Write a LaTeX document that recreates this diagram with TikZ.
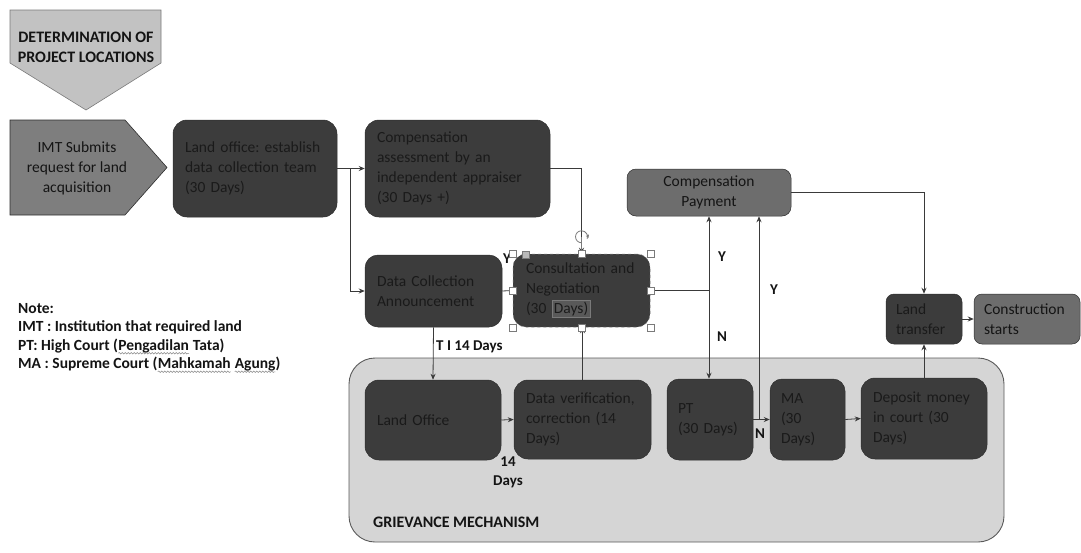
\documentclass[tikz,border=0pt]{standalone}
\usepackage{fontspec}
\setmainfont{Carlito}
\usetikzlibrary{arrows.meta,decorations.pathmorphing}

\definecolor{darkbox}{HTML}{3C3C3C}
\definecolor{midbox}{HTML}{6D6D6D}
\definecolor{imtbox}{HTML}{7E7E7E}
\definecolor{titlebox}{HTML}{C2C2C2}
\definecolor{grievbox}{HTML}{D5D5D5}
\definecolor{txt}{HTML}{141414}
\definecolor{boxtxt}{HTML}{1A1A1A}
\definecolor{linec}{HTML}{3A3A3A}
\definecolor{edgec}{HTML}{2E2E2E}
\definecolor{wavec}{HTML}{8A8A8A}
\definecolor{handlec}{HTML}{7A7A7A}
\definecolor{frame}{HTML}{5A5A5A}

% spell-check style wavy underline
\newcommand{\squig}[1]{\tikz[x=1cm,y=1cm,baseline=(w.base)]{%
  \node[inner sep=0pt,outer sep=0pt] (w) {#1};
  \draw[wavec, line width=0.5pt, decorate,
    decoration={snake, amplitude=0.8pt, segment length=3pt}]
    ([yshift=-3pt]w.base west) -- ([yshift=-3pt]w.base east);}}

\begin{document}
\begin{tikzpicture}[x=1pt,y=-1pt,
  boxtext/.style={font=\fontsize{15.5}{20}\selectfont, text=boxtxt},
  box/.style={boxtext, draw=edgec, line width=0.5pt, fill=darkbox,
    rounded corners=14pt, align=left, inner xsep=12pt, inner ysep=0pt},
  midnode/.style={box, fill=midbox, text=txt},
  lbl/.style={font=\fontsize{15}{18}\selectfont\bfseries, text=txt, inner sep=0pt},
  conn/.style={draw=linec, line width=0.8pt},
  arr/.style={conn, -{Stealth[length=6pt,width=5pt]}},
  handle/.style={draw=handlec, fill=white, line width=0.5pt, minimum size=7pt,
    inner sep=0pt, rectangle},
]
\useasboundingbox (0,0) rectangle (1081,552);

% ---- entry shapes ----
\draw[draw=handlec, fill=titlebox, line width=0.6pt]
  (10,10) -- (161,10) -- (161,63) -- (86,110) -- (10,63) -- cycle;
\node[font=\fontsize{16}{20}\selectfont\bfseries, text=txt, align=center, inner sep=0pt]
  (title) at (86,47) {DETERMINATION~OF\\PROJECT~LOCATIONS};

\draw[draw=edgec, fill=imtbox, line width=0.6pt]
  (10,120) -- (125,120) -- (167,167.5) -- (125,215) -- (10,215) -- cycle;
\node[boxtext, text=txt, align=center, inner sep=0pt]
  (imt) at (77,168) {IMT Submits\\request for land\\acquisition};

% ---- grievance container ----
\node[draw=frame, fill=grievbox, line width=0.9pt, rounded corners=26pt,
  minimum width=655pt, minimum height=184pt, inner sep=0pt] (griev) at (676.5,450) {};
\node[font=\fontsize{16}{19}\selectfont\bfseries, text=txt, anchor=west, inner sep=0pt]
  (grievlbl) at (373,522) {GRIEVANCE MECHANISM};

% ---- process boxes ----
\node[box, text width=140pt, minimum height=97pt] (land) at (255,168.5)
  {Land~office:~establish\\data~collection~team\\(30 Days)};
\node[box, text width=161pt, minimum height=97pt] (comp) at (457.5,168.5)
  {Compensation\\assessment~by~an\\independent~appraiser\\(30 Days +)};
\node[box, text width=113pt, minimum height=72pt, rounded corners=13pt] (dc) at (433.5,291)
  {Data~Collection\\Announcement};

\node[lbl] (ylbl0) at (507,259) {Y};

\node[box, text width=111pt, inner xsep=13pt, minimum height=73pt, rounded corners=13pt,
  dashed, draw=handlec] (cn) at (581.5,290.5)
  {Consultation~and\\Negotiation\\(30~{\setlength{\fboxsep}{1.5pt}\setlength{\fboxrule}{0.8pt}\fcolorbox{handlec}{darkbox!85!white}{Days)}}};

\node[midnode, text width=140pt, minimum height=47pt, rounded corners=9pt, align=center] (pay)
  at (709,192.5) {Compensation\\Payment};
\node[box, text width=56pt, inner xsep=10pt, minimum height=50pt, rounded corners=8pt] (lt)
  at (924,319) {Land\\transfer};
\node[midnode, text width=86pt, inner xsep=10pt, minimum height=50pt, rounded corners=8pt] (cs)
  at (1027,319) {Construction\\starts};

\node[box, text width=112pt, minimum height=80pt] (lo) at (433,420) {Land Office};
\node[box, text width=113pt, minimum height=79pt] (dv) at (582.5,419.5)
  {Data~verification,\\correction~(14\\Days)};
\node[box, text width=64pt, inner xsep=11pt, minimum height=81pt, rounded corners=12pt] (pt)
  at (710,419.5) {PT\\(30~Days)};
\node[box, text width=53pt, inner xsep=11pt, minimum height=81pt, rounded corners=12pt] (ma)
  at (807.5,419.5) {MA\\(30\\Days)};
\node[box, text width=102pt, minimum height=81pt] (dep) at (924,418.5)
  {Deposit~money\\in~court~(30\\Days)};

% ---- connectors ----
\coordinate (j1) at (350,168.5);
\coordinate (j2) at (709,290.5);
\coordinate (j3) at (759,419.5);

\draw[arr] (land.east) -- (comp.west);
\draw[arr] (j1) |- (dc.west);
\draw[arr] (comp.east) -| (cn.north);
\draw[conn] (dc.east) -- (cn.west);
\draw[conn] (cn.east) -- (j2);
\draw[arr] (j2) -- (pay.south -| j2);
\draw[arr] (j2) -- (pt.north -| j2);
\draw[arr] (pt.east) -- (ma.west);
\draw[arr] (j3) -- (j3 |- pay.south);
\draw[arr] (ma.east) -- (dep.west);
\draw[arr] (dep.north) -- (lt.south);
\draw[arr] (pay.east) -| (lt.north);
\draw[arr] (lt.east) -- (cs.west);
\draw[arr] (dc.south) -- (lo.north);
\draw[arr] (lo.east) -- (dv.west);
\draw[arr] (dv.north) -- (dv.north |- cn.south);

% ---- connector labels ----
\node[lbl] (y1) at (722,257) {Y};
\node[lbl] (n1) at (722,337) {N};
\node[lbl] (y2) at (774,290) {Y};
\node[lbl] (n2) at (760,434) {N};
\node[lbl, anchor=west] (t14) at (436,347) {T I 14 Days};
\node[lbl, align=center, font=\fontsize{15}{19}\selectfont\bfseries] (d14) at (508,472) {14\\Days};

% ---- selection handles on the consultation box ----
\draw[handlec, line width=0.5pt] (cn.north) -- ++(0,-17) coordinate (rot);
\draw[handlec, line width=0.8pt] ([yshift=-6pt]rot) arc[start angle=270, end angle=-20, radius=6pt];
\draw[handlec, line width=0.8pt, -{Stealth[length=3pt,width=3.5pt]}] ([shift={(5.6,-2)}]rot) -- ++(1.5,3);
\foreach \a in {north west, north, north east, west, east, south west, south, south east}
  \node[handle] at (cn.\a) {};
\node[handle, fill=gray!55] (adj) at (526,255) {};

% ---- note ----
\node[font=\fontsize{15.5}{18.5}\selectfont\bfseries, text=txt, align=left, anchor=north west,
  inner sep=0pt] (note) at (18,303)
  {Note:\\IMT~:~Institution~that~required~land\\PT:~High~Court~(\squig{Pengadilan}~Tata)\\
   MA~:~Supreme~Court~(\squig{Mahkamah}~\squig{Agung})};
\end{tikzpicture}
\end{document}
